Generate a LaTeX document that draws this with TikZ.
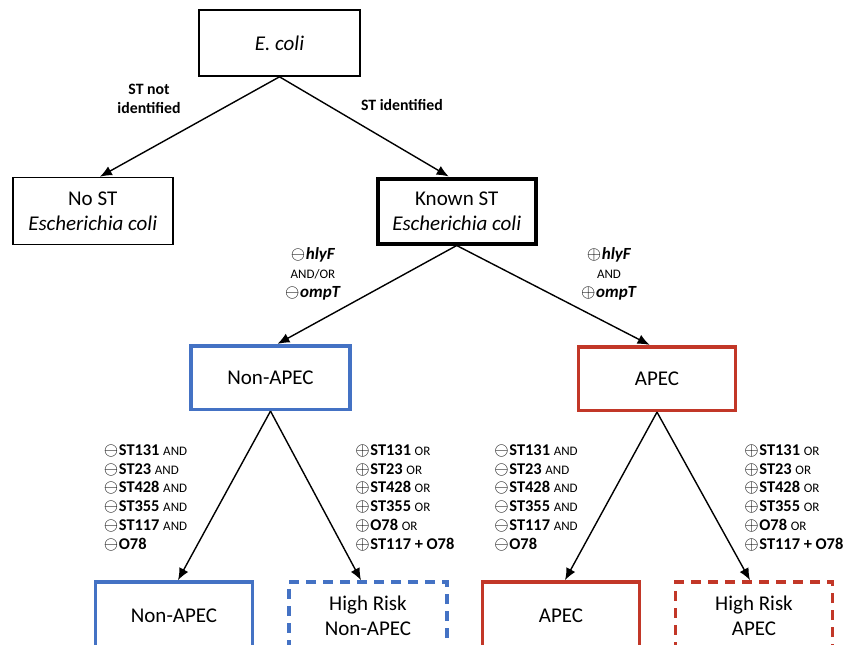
\documentclass[tikz,border=0pt]{standalone}
\usepackage{fontspec}
\setmainfont{Carlito}
\usetikzlibrary{arrows.meta}

\definecolor{apecblue}{RGB}{68,114,196}
\definecolor{apecred}{RGB}{194,55,40}

\newcommand{\plusmark}{{\fontsize{9.5}{9.5}\selectfont$\oplus$}\kern0.3pt}
\newcommand{\minusmark}{{\fontsize{9.5}{9.5}\selectfont$\ominus$}\kern0.3pt}
\newcommand{\conj}[1]{{\fontsize{6.5}{9}\selectfont\mdseries #1}}

\begin{document}
\begin{tikzpicture}[x=0.5pt, y=-0.5pt,
  box/.style={draw, line width=0.8pt, inner sep=0pt, align=center,
    font=\fontsize{10.5}{12.5}\selectfont},
  bluebox/.style={box, draw=apecblue, line width=1.8pt},
  redbox/.style={box, draw=apecred, line width=1.8pt},
  risk/.style={dash pattern=on 5pt off 3.5pt},
  cond/.style={align=center, inner sep=0pt,
    font=\fontsize{8.5}{9.6}\selectfont\bfseries},
  stlabel/.style={align=center, inner sep=0pt,
    font=\fontsize{7.9}{9.75}\selectfont\bfseries},
  marker/.style={align=left, inner sep=0pt, anchor=north west,
    font=\fontsize{8.2}{9.45}\selectfont\bfseries},
  arr/.style={-{Latex[length=6pt,width=5pt]}, line width=0.7pt}]

  \clip (0,0) rectangle (845,644);

  % Define nodes
  \node[box, minimum width=80.5pt, minimum height=33pt] (ecoli) at (279.5,43) {\textit{E. coli}};
  \node[box, minimum width=80pt, minimum height=33.5pt] (nost) at (92.7,211) {No ST\\ \textit{Escherichia coli}};
  \node[box, line width=2pt, minimum width=78.8pt, minimum height=32.5pt] (known) at (456.7,211) {Known ST\\ \textit{Escherichia coli}};
  \node[bluebox, minimum width=79.5pt, minimum height=31.8pt] (nonapec) at (270.5,377.5) {Non-APEC};
  \node[redbox, minimum width=78.5pt, minimum height=31.8pt] (apec) at (657,378.5) {APEC};
  \node[bluebox, minimum width=78.5pt, minimum height=34pt] (lownon) at (174,616) {Non-APEC};
  \node[bluebox, risk, minimum width=79pt, minimum height=34pt] (risknon) at (368,616) {High Risk\\ Non-APEC};
  \node[redbox, minimum width=78.5pt, minimum height=34pt] (lowapec) at (561,616) {APEC};
  \node[redbox, risk, minimum width=78.5pt, minimum height=34pt] (riskapec) at (754,616) {High Risk\\ APEC};

  % Edge labels
  \node[stlabel] (notid) at (149,99) {ST not\\ identified};
  \node[stlabel] (isid) at (402,105) {ST identified};
  \node[cond] (negvir) at (313,274) {\minusmark\textit{hlyF}\\ \conj{AND/OR}\\ \minusmark\textit{ompT}};
  \node[cond] (posvir) at (609,274) {\plusmark\textit{hlyF}\\ \conj{AND}\\ \plusmark\textit{ompT}};
  \node[marker] (negnon) at (103.5,444) {\minusmark ST131 \conj{AND}\\ \minusmark ST23 \conj{AND}\\ \minusmark ST428 \conj{AND}\\ \minusmark ST355 \conj{AND}\\ \minusmark ST117 \conj{AND}\\ \minusmark O78};
  \node[marker] (posnon) at (355,444) {\plusmark ST131 \conj{OR}\\ \plusmark ST23 \conj{OR}\\ \plusmark ST428 \conj{OR}\\ \plusmark ST355 \conj{OR}\\ \plusmark O78 \conj{OR}\\ \plusmark ST117 + O78};
  \node[marker] (negapec) at (494,444) {\minusmark ST131 \conj{AND}\\ \minusmark ST23 \conj{AND}\\ \minusmark ST428 \conj{AND}\\ \minusmark ST355 \conj{AND}\\ \minusmark ST117 \conj{AND}\\ \minusmark O78};
  \node[marker] (posapec) at (744,444) {\plusmark ST131 \conj{OR}\\ \plusmark ST23 \conj{OR}\\ \plusmark ST428 \conj{OR}\\ \plusmark ST355 \conj{OR}\\ \plusmark O78 \conj{OR}\\ \plusmark ST117 + O78};

  % Connect the nodes
  \draw[arr] (ecoli.south) -- ([xshift=3.6pt]nost.north);
  \draw[arr] (ecoli.south) -- ([xshift=-4pt]known.north);
  \draw[arr] (known.south) -- ([xshift=3.5pt]nonapec.north);
  \draw[arr] (known.south) -- ([xshift=-3.7pt]apec.north);
  \draw[arr] (nonapec.south) -- ([xshift=2pt]lownon.north);
  \draw[arr] (nonapec.south) -- ([xshift=-3.5pt]risknon.north);
  \draw[arr] (apec.south) -- ([xshift=2pt]lowapec.north);
  \draw[arr] (apec.south) -- ([xshift=-2pt]riskapec.north);

\end{tikzpicture}
\end{document}
